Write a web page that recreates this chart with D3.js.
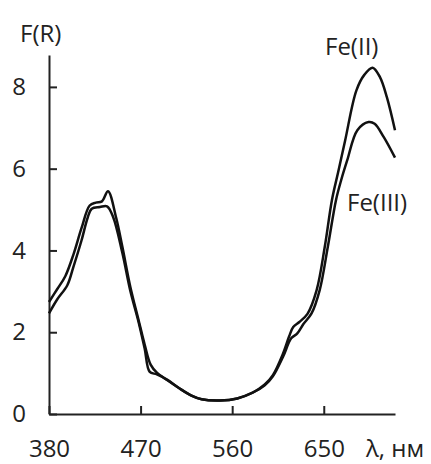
<!DOCTYPE html>
<html>
<head>
<meta charset="utf-8">
<script src="https://cdn.jsdelivr.net/npm/d3@7"></script>
<style>
  body { margin: 0; background: #fff; }
  svg { display: block; font-family: 'Open Sans', sans-serif; }
  .axis path, .axis line { stroke: #222; stroke-width: 2; }
  .axis text { font-size: 24px; fill: #222; font-family: 'Open Sans', sans-serif; }
  .line { fill: none; stroke: #111; stroke-width: 2.5; }
  .label { font-size: 24px; fill: #222; }
</style>
</head>
<body>
<div id="chart"></div>
<script>
// wavelength (nm) and F(R)
const lambdaFe2 = [380, 388, 396, 404, 412, 420, 426, 432, 438, 446, 452, 460, 468, 474, 480, 486, 496, 508, 520, 530, 548, 565, 580, 592, 600, 610, 616, 620, 626, 634, 643, 651, 658, 664, 671, 682, 690, 698, 705, 712, 720];
const fe2 = [2.74, 3.05, 3.37, 3.9, 4.55, 5.1, 5.17, 5.2, 5.45, 4.8, 4.1, 3.1, 2.3, 1.7, 1.2, 1.01, 0.83, 0.63, 0.45, 0.36, 0.33, 0.38, 0.52, 0.72, 0.95, 1.48, 1.9, 2.13, 2.25, 2.45, 3.03, 4.09, 5.23, 5.9, 6.69, 7.91, 8.3, 8.47, 8.25, 7.75, 6.94];

const lambdaFe3 = [380, 388, 398, 404, 412, 418, 422, 430, 437, 443, 452, 460, 468, 474, 479, 486, 496, 508, 520, 530, 548, 565, 580, 592, 600, 610, 618, 624, 630, 638, 646, 654, 662, 667, 673, 683, 694, 700, 709, 720];
const fe3 = [2.46, 2.8, 3.15, 3.6, 4.25, 4.8, 5.02, 5.06, 5.08, 4.82, 3.95, 3.0, 2.25, 1.6, 1.03, 0.97, 0.84, 0.63, 0.45, 0.36, 0.33, 0.38, 0.52, 0.7, 0.92, 1.4, 1.85, 1.97, 2.2, 2.46, 3.03, 4.09, 5.23, 5.71, 6.2, 6.94, 7.14, 7.1, 6.77, 6.27];

const xTicks = [380, 470, 560, 650];
const yTicks = [0, 2, 4, 6, 8];

const width = 431;
const height = 464;

const svg = d3
  .select('#chart')
  .append('svg')
  .attr('width', width)
  .attr('height', height);

const xScale = d3.scaleLinear().domain([380, 720]).range([49, 395]);
const yScale = d3.scaleLinear().domain([0, 8.78]).range([414, 55]);

svg
  .append('g')
  .attr('class', 'axis')
  .attr('transform', 'translate(0,414)')
  .call(d3.axisBottom(xScale).tickValues(xTicks).tickSizeInner(-8).tickSizeOuter(0).tickPadding(26));

svg
  .append('g')
  .attr('class', 'axis')
  .attr('transform', 'translate(49,0)')
  .call(d3.axisLeft(yScale).tickValues(yTicks).tickSizeInner(-8).tickSizeOuter(0).tickPadding(23));

const line = d3
  .line()
  .x(d => xScale(d[0]))
  .y(d => yScale(d[1]))
  .curve(d3.curveCatmullRom.alpha(0.5));

svg
  .append('path')
  .datum(d3.zip(lambdaFe2, fe2))
  .attr('class', 'line')
  .attr('d', line);

svg
  .append('path')
  .datum(d3.zip(lambdaFe3, fe3))
  .attr('class', 'line')
  .attr('d', line);

// Axis titles and series labels
svg.append('text').attr('class', 'label').attr('x', 20).attr('y', 42).text('F(R)');
svg.append('text').attr('class', 'label').attr('x', 366).attr('y', 457).text('λ, нм');
svg.append('text').attr('class', 'label').attr('x', 325).attr('y', 55).text('Fe(II)');
svg.append('text').attr('class', 'label').attr('x', 347).attr('y', 211).text('Fe(III)');
</script>
</body>
</html>
